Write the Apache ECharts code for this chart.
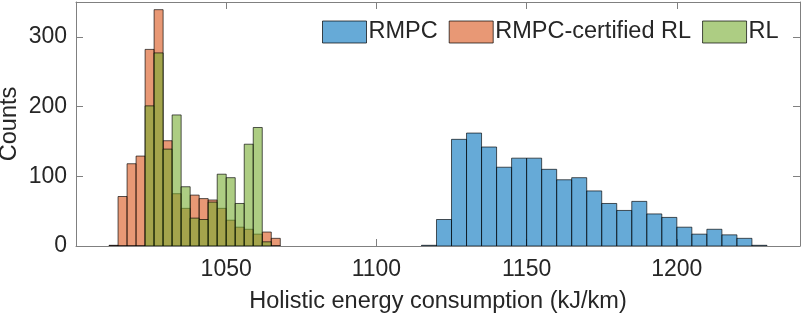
<!DOCTYPE html>
<html><head><meta charset="utf-8">
<script src="https://cdn.jsdelivr.net/npm/echarts@6/dist/echarts.min.js"></script>
<style>html,body{margin:0;padding:0;background:#fff}#c{width:802px;height:316px}</style>
</head><body><div id="c"></div>
<script>
// ---- data ----
const seriesNames = ['RMPC', 'RMPC-certified RL', 'RL'];

// RMPC histogram: bin edges and counts
const rmpcEdges = [1115, 1120, 1125, 1130, 1135, 1140, 1145, 1150, 1155, 1160, 1165, 1170,
                   1175, 1180, 1185, 1190, 1195, 1200, 1205, 1210, 1215, 1220, 1225, 1230];
const rmpcCounts = [1, 38, 153, 162, 142, 113, 126, 126, 110, 95, 98, 79,
                    61, 51, 64, 46, 41, 27, 17, 24, 16, 11, 1];

// RMPC-certified RL and RL histograms share these bin edges
const rlEdges = [1011, 1014, 1017, 1020, 1023, 1026, 1029, 1032, 1035, 1038,
                 1041, 1044, 1047, 1050, 1053, 1056, 1059, 1062, 1065, 1068];
const certifiedCounts = [1, 71, 118, 129, 282, 339, 151, 75, 54, 73,
                         68, 66, 54, 37, 27, 24, 17, 20, 11];
const rlCounts = [0, 0, 0, 0, 201, 277, 139, 188, 85, 40,
                  38, 63, 103, 98, 61, 146, 170, 6, 0];

const xTickLabels = [1050, 1100, 1150, 1200];
const yTickLabels = [0, 100, 200, 300];

// ---- chart ----
const FONT = "'Liberation Sans', Arial, Helvetica, sans-serif";
const TXT = '#262626';
const AX = '#808080';
const colors = ['rgba(0,114,189,0.6)', 'rgba(217,83,25,0.6)', 'rgba(119,172,48,0.6)'];

function toBins(edges, counts) {
  return counts.map((c, i) => [edges[i], edges[i + 1], c]);
}

function makeRender(fill) {
  return function (params, api) {
    const p0 = api.coord([api.value(0), 0]);
    const p1 = api.coord([api.value(1), api.value(2)]);
    return {
      type: 'rect',
      shape: { x: p0[0], y: p1[1], width: p1[0] - p0[0], height: p0[1] - p1[1] },
      style: { fill: fill, stroke: 'rgba(0,0,0,0.65)', lineWidth: 1 }
    };
  };
}

const datasets = [toBins(rmpcEdges, rmpcCounts), toBins(rlEdges, certifiedCounts), toBins(rlEdges, rlCounts)];

const chart = echarts.init(document.getElementById('c'), null, { renderer: 'canvas' });

function axisCommon(extra) {
  return Object.assign({
    type: 'value',
    axisLine: { show: true, onZero: false, lineStyle: { color: AX, width: 1 } },
    axisTick: { show: true, inside: true, length: 7, lineStyle: { color: AX, width: 1 } },
    splitLine: { show: false },
  }, extra);
}

chart.setOption({
  animation: false,
  backgroundColor: '#fff',
  grid: { left: 76, right: 2, top: 2, bottom: 70, containLabel: false, outerBoundsMode: 'none' },
  legend: {
    left: 322, top: 20, padding: 0,
    icon: 'rect', itemWidth: 44, itemHeight: 22, itemGap: 11,
    itemStyle: { borderColor: 'rgba(0,0,0,0.7)', borderWidth: 1 },
    textStyle: { color: TXT, fontSize: 23.5, fontFamily: FONT, padding: [0, 0, 0, -3] },
    data: seriesNames
  },
  xAxis: [
    axisCommon({
      position: 'bottom', min: 1000, max: 1241, interval: 50,
      axisLabel: {
        color: TXT, fontSize: 23, fontFamily: FONT, margin: 12,
        showMinLabel: false, showMaxLabel: false,
        formatter: v => (xTickLabels.indexOf(v) >= 0 ? String(v) : '')
      },
      name: 'Holistic energy consumption (kJ/km)', nameLocation: 'middle', nameGap: 44,
      nameMoveOverlap: false,
      nameTextStyle: { color: TXT, fontSize: 23.5, fontFamily: FONT }
    }),
    axisCommon({
      position: 'top', min: 1000, max: 1241, interval: 50,
      axisLabel: { show: false }
    })
  ],
  yAxis: [
    axisCommon({
      position: 'left', min: 0, max: 350, interval: 100,
      axisLabel: {
        color: TXT, fontSize: 23, fontFamily: FONT, margin: 9,
        showMaxLabel: false,
        formatter: v => (yTickLabels.indexOf(v) >= 0 ? String(v) : '')
      },
      name: 'Counts', nameLocation: 'middle', nameGap: 54, nameRotate: 90,
      nameMoveOverlap: false,
      nameTextStyle: { color: TXT, fontSize: 23.5, fontFamily: FONT }
    }),
    axisCommon({
      position: 'right', min: 0, max: 350, interval: 100,
      axisLabel: { show: false }
    })
  ],
  series: seriesNames.map((name, k) => ({
    name: name,
    type: 'custom',
    xAxisIndex: 0, yAxisIndex: 0,
    renderItem: makeRender(colors[k]),
    itemStyle: { color: colors[k] },
    encode: { x: [0, 1], y: 2 },
    clip: true,
    data: datasets[k],
    z: 2 + k
  }))
});
</script>
</body></html>
